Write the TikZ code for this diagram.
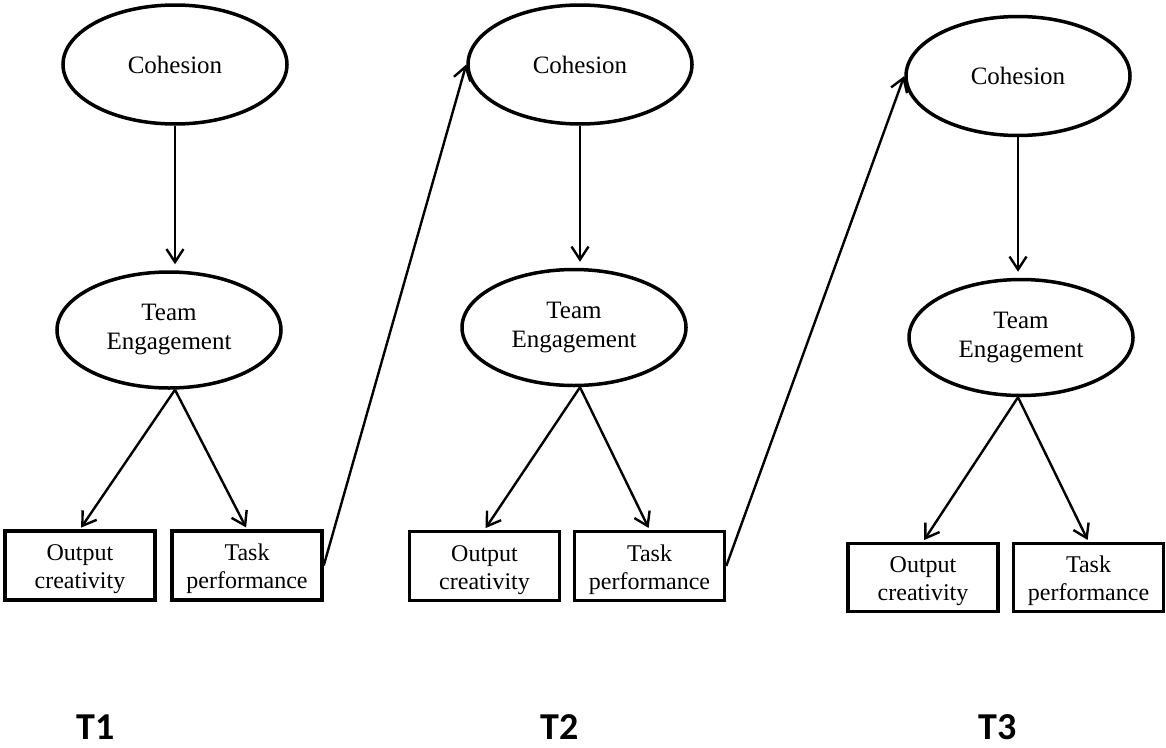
\documentclass[tikz,border=0pt]{standalone}
\usepackage{fontspec}
\setmainfont{Liberation Serif}
\newfontfamily\labelfont{Carlito}
\usetikzlibrary{shapes.geometric,arrows.meta}
\newcommand\boxtext[1]{\raisebox{-3.5pt}[\height][\depth]{\begin{tabular}{@{}c@{}}#1\end{tabular}}}
\begin{document}
\begin{tikzpicture}[x=1pt,y=-1pt,
  oval/.style={ellipse,draw,line width=3.5pt,inner sep=0pt,minimum width=224pt,font=\fontsize{25}{29}\selectfont,align=center},
  cbox/.style={rectangle,draw,line width=3.5pt,inner sep=0pt,minimum width=150pt,minimum height=69pt,font=\fontsize{24}{28}\selectfont},
  arr/.style={line width=2.4pt,-{Straight Barb[length=13pt,width=17pt]}},
  tlab/.style={font=\labelfont\bfseries\fontsize{38}{40}\selectfont,inner sep=0pt}]
\useasboundingbox (0,0) rectangle (1166,747);
% group 1
\node[oval,minimum height=119pt] (c1) at (175,64.5) {Cohesion};
\node[oval,minimum height=116pt] (te1) at (169,330) {Team\\Engagement};
\node[cbox] (oc1) at (80,565.5) {\boxtext{Output\\creativity}};
\node[cbox] (tp1) at (247,565.5) {\boxtext{Task\\performance}};
% group 2
\node[oval,minimum height=119pt] (c2) at (580,64.5) {Cohesion};
\node[oval,minimum height=116pt] (te2) at (574,327.5) {Team\\Engagement};
\node[cbox] (oc2) at (484.5,566) {\boxtext{Output\\creativity}};
\node[cbox] (tp2) at (649.5,566) {\boxtext{Task\\performance}};
% group 3
\node[oval,minimum height=119pt] (c3) at (1018,76) {Cohesion};
\node[oval,minimum height=116pt] (te3) at (1021,337.5) {Team\\Engagement};
\node[cbox,minimum height=68pt] (oc3) at (923,577.5) {\boxtext{Output\\creativity}};
\node[cbox,minimum height=68pt] (tp3) at (1088.5,577.5) {\boxtext{Task\\performance}};
% time labels
\node[tlab] (t1) at (96,727) {T1};
\node[tlab] (t2) at (559.5,727) {T2};
\node[tlab] (t3) at (998,727) {T3};
% connectors
\foreach \i in {1,2,3}{
  \draw[arr,shorten >=6pt] (c\i.south) -- (c\i.south |- te\i.north);
  \draw[arr,shorten >=2pt] (c\i.south |- te\i.south) -- (oc\i.north);
  \draw[arr,shorten >=2pt] (c\i.south |- te\i.south) -- (tp\i.north);
}
\draw[arr] (tp1.east) -- (c2.west);
\draw[arr] (tp2.east) -- (c3.west);
\end{tikzpicture}
\end{document}
